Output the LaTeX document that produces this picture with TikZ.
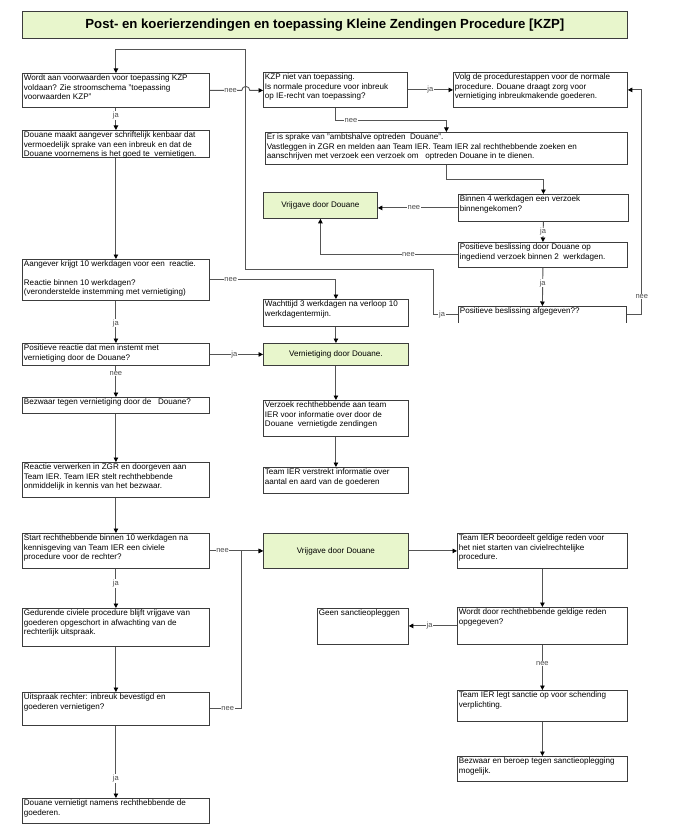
\documentclass[tikz,border=0pt]{standalone}
\usepackage{fontspec}
\setmainfont{Liberation Sans}
\usetikzlibrary{arrows.meta}

\definecolor{lijn}{RGB}{60,60,60}
\definecolor{verbinding}{RGB}{85,85,85}
\definecolor{lichtgroen}{RGB}{232,246,204}
\newcommand{\tekst}{\fontsize{8.1}{9.2}\selectfont}

\begin{document}
\begin{tikzpicture}[x=1pt, y=-1pt,
    vak/.style 2 args={draw=lijn, line width=0.8pt, anchor=north west, inner xsep=1.5pt, inner ysep=1pt,
        execute at begin node={\begin{minipage}[t][\dimexpr #2pt-2pt\relax][t]{\dimexpr #1pt-3pt\relax}\tekst\raggedright\strut},
        execute at end node={\end{minipage}}},
    groen/.style 2 args={draw=lijn, line width=0.8pt, fill=lichtgroen, anchor=north west,
        minimum width=#1pt, minimum height=#2pt, inner sep=0pt, font=\tekst},
    pijl/.style={draw=verbinding, line width=0.9pt, -{Triangle[length=4.5pt, width=4.5pt, color=black]}},
    lbl/.style={fill=white, inner sep=0.6pt, font=\fontsize{7.5}{8}\selectfont, text=black!70}]

    \useasboundingbox (0,0) rectangle (700,832);

    \node[groen={605}{27}, font=\fontsize{13.2}{15}\selectfont\bfseries] (titel) at (22,11)
        {Post- en koerierzendingen en toepassing Kleine Zendingen Procedure [KZP]};

    \node[vak={187}{34}] (kzp)          at (22,73)  {Wordt aan voorwaarden voor toepassing KZP\\ voldaan? Zie stroomschema "toepassing\\ voorwaarden KZP"};
    \node[vak={187}{27}] (melding)      at (22,130) {Douane maakt aangever schriftelijk kenbaar dat\\ vermoedelijk sprake van een inbreuk en dat de\\ Douane voornemens is het goed te~~vernietigen.};
    \node[vak={187}{41}] (termijn)      at (22,259) {Aangever krijgt 10 werkdagen voor een~~reactie.\\[9pt] Reactie binnen 10 werkdagen?\\ (veronderstelde instemming met vernietiging)};
    \node[vak={187}{22}] (instemming)   at (22,343) {Positieve reactie dat men instemt met\\ vernietiging door de Douane?};
    \node[vak={187}{16}] (bezwaar)      at (22,397) {Bezwaar tegen vernietiging door de~~~Douane?};
    \node[vak={187}{35}] (verwerken)    at (22,462) {Reactie verwerken in ZGR en doorgeven aan\\ Team IER. Team IER stelt rechthebbende\\ onmiddelijk in kennis van het bezwaar.};
    \node[vak={187}{35}] (civiel)       at (22,533) {Start rechthebbende binnen 10 werkdagen na\\ kennisgeving van Team IER een civiele\\ procedure voor de rechter?};
    \node[vak={187}{38}] (opgeschort)   at (22,608) {Gedurende civiele procedure blijft vrijgave van\\ goederen opgeschort in afwachting van de\\ rechterlijk uitspraak.};
    \node[vak={187}{33}] (uitspraak)    at (22,692) {Uitspraak rechter: inbreuk bevestigd en\\ goederen vernietigen?};
    \node[vak={187}{25}] (vernietigt)   at (22,798) {Douane vernietigt namens rechthebbende de\\ goederen.};

    \node[vak={144}{35}] (nietkzp)      at (263,72)  {KZP niet van toepassing.\\ Is normale procedure voor inbreuk\\ op IE-recht van toepassing?};
    \node[vak={174}{35}] (normaal)      at (453,72)  {Volg de procedurestappen voor de normale\\ procedure. Douane draagt zorg voor\\ vernietiging inbreukmakende goederen.};
    \node[vak={362}{32}] (ambtshalve)   at (265,132) {Er is sprake van "ambtshalve optreden~~Douane".\\ Vastleggen in ZGR en melden aan Team IER. Team IER zal rechthebbende zoeken en\\ aanschrijven met verzoek een verzoek om~~~optreden Douane in te dienen.};
    \node[vak={170}{27}] (verzoek)      at (458,194) {Binnen 4 werkdagen een verzoek\\ binnengekomen?};
    \node[groen={114}{26}] (vrijgave1)  at (263,192) {Vrijgave door Douane};
    \node[vak={169}{25}] (beslissing)   at (458,242) {Positieve beslissing door Douane op\\ ingediend verzoek binnen 2~~werkdagen.};
    \node[vak={168}{16}, draw=none] (afgegeven) at (458,306) {Positieve beslissing afgegeven??};
    \draw[draw=lijn, line width=0.8pt] (afgegeven.south west) -- (afgegeven.north west) -- (afgegeven.north east) -- (afgegeven.south east);

    \node[vak={145}{27}] (wachttijd)    at (263,299) {Wachttijd 3 werkdagen na verloop 10\\ werkdagentermijn.};
    \node[groen={145}{22}] (vernietiging) at (263,343) {Vernietiging door Douane.};
    \node[vak={145}{36}] (info1)        at (263,400) {Verzoek rechthebbende aan team\\ IER voor informatie over door de\\ Douane~~vernietigde zendingen};
    \node[vak={145}{26}] (info2)        at (263,467) {Team IER verstrekt informatie over\\ aantal en aard van de goederen};
    \node[groen={145}{35}] (vrijgave2)  at (263,533) {Vrijgave door Douane};
    \node[vak={91}{36}] (geen)          at (317,608) {Geen sanctieopleggen};

    \node[vak={170}{35}] (beoordeelt)   at (457,533) {Team IER beoordeelt geldige reden voor\\ het niet starten van civielrechtelijke\\ procedure.};
    \node[vak={170}{37}] (reden)        at (457,607) {Wordt door rechthebbende geldige reden\\ opgegeven?};
    \node[vak={170}{31}] (sanctie)      at (457,690) {Team IER legt sanctie op voor schending\\ verplichting.};
    \node[vak={170}{25}] (beroep)       at (457,756) {Bezwaar en beroep tegen sanctieoplegging\\ mogelijk.};

    \coordinate (lus1) at (433,269);
    \coordinate (lus2) at (245,49);

    \draw[pijl] (kzp.south) -- node[lbl, pos=0.35] {ja} (melding.north);
    \draw[pijl] (kzp.east) -- node[lbl, pos=0.65] {nee} ++(32,0) arc[start angle=180, end angle=0, radius=4pt] -- (nietkzp.west |- kzp.east);
    \draw[pijl] (nietkzp.east) -- node[lbl] {ja} (normaal.west);
    \draw[pijl] (nietkzp.south) -- ++(0,13) -| node[lbl, pos=0.07] {nee} (ambtshalve.north);
    \draw[pijl] (ambtshalve.south) -- ++(0,15) -| (verzoek.north);
    \draw[pijl] (verzoek.west) -- node[lbl, pos=0.55] {nee} (verzoek.west -| vrijgave1.east);
    \draw[pijl] (verzoek.south) -- node[lbl] {ja} (beslissing.north);
    \draw[pijl] (beslissing.west) -| node[lbl, pos=0.18] {nee} (vrijgave1.south);
    \draw[pijl] (beslissing.south) -- node[lbl, pos=0.4] {ja} (afgegeven.north);
    \draw[pijl] (afgegeven.east) -- ++(15,0) |- node[lbl, pos=0.04] {nee} (normaal.east);
    \draw[pijl] (afgegeven.west) -| node[lbl, pos=0.32] {ja} (lus1) -| (lus2) -| (kzp.north);

    \draw[pijl] (melding.south) -- (termijn.north);
    \draw[pijl] (termijn.east) -| node[lbl, pos=0.083] {nee} (wachttijd.north);
    \draw[pijl] (wachttijd.south) -- (vernietiging.north);
    \draw[pijl] (termijn.south) -- node[lbl, pos=0.53] {ja} (instemming.north);
    \draw[pijl] (instemming.east) -- node[lbl, pos=0.46] {ja} (vernietiging.west);
    \draw[pijl] (instemming.south) -- node[lbl, pos=0.25] {nee} (bezwaar.north);
    \draw[pijl] (bezwaar.south) -- (verwerken.north);
    \draw[pijl] (verwerken.south) -- (civiel.north);
    \draw[pijl] (vernietiging.south) -- (info1.north);
    \draw[pijl] (info1.south) -- (info2.north);

    \draw[pijl] (civiel.east) -- node[lbl, pos=0.24] {nee} (vrijgave2.west);
    \draw[pijl] (uitspraak.east) -- node[lbl, pos=0.56] {nee} ++(32,0) |- (vrijgave2.west);
    \draw[pijl] (vrijgave2.east) -- (beoordeelt.west);
    \draw[pijl] (beoordeelt.south) -- (reden.north);
    \draw[pijl] (reden.west) -- node[lbl, pos=0.57] {ja} (reden.west -| geen.east);
    \draw[pijl] (reden.south) -- node[lbl, pos=0.41] {nee} (sanctie.north);
    \draw[pijl] (sanctie.south) -- (beroep.north);
    \draw[pijl] (civiel.south) -- node[lbl, pos=0.375] {ja} (opgeschort.north);
    \draw[pijl] (opgeschort.south) -- (uitspraak.north);
    \draw[pijl] (uitspraak.south) -- node[lbl, pos=0.73] {ja} (vernietigt.north);
\end{tikzpicture}
\end{document}
